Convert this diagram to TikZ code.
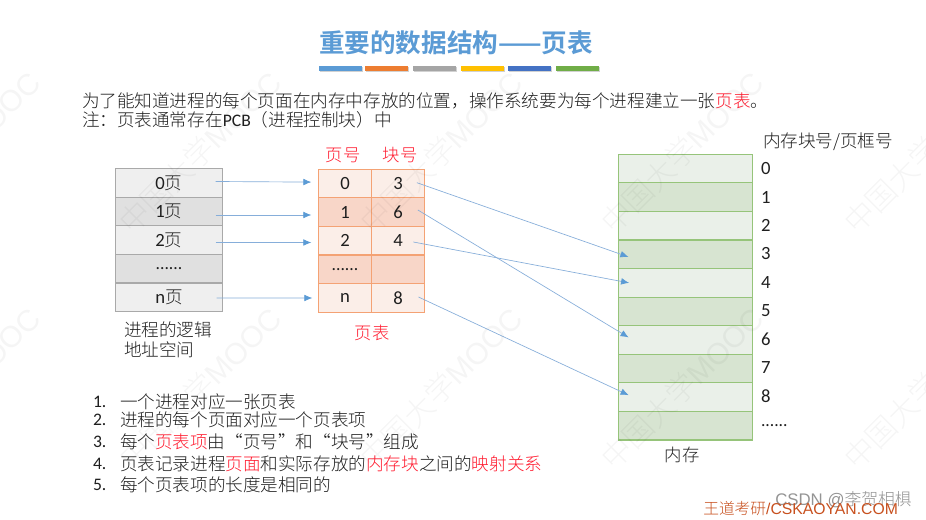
\documentclass[tikz,border=0pt]{standalone}
\usepackage{fontspec}
\setmainfont{Carlito}
\newfontfamily\cj[UprightFont={* Light}]{Noto Sans CJK SC}
\newfontfamily\ari{Liberation Sans}
\definecolor{ink}{HTML}{1F1F1F}
\definecolor{hot}{HTML}{FF1A2E}
\definecolor{arrowc}{HTML}{86AEDA}
\definecolor{tipc}{HTML}{5B9BD5}
\definecolor{grayline}{HTML}{A9A9A9}
\definecolor{grayA}{HTML}{EFEFEF}
\definecolor{grayB}{HTML}{E0E0E0}
\definecolor{orline}{HTML}{F4A274}
\definecolor{orA}{HTML}{FBEEE8}
\definecolor{orB}{HTML}{F8D6C8}
\definecolor{grline}{HTML}{96C47A}
\definecolor{grA}{HTML}{EAF0E9}
\definecolor{grB}{HTML}{D7E4D1}
\definecolor{titleblue}{HTML}{5B9BD5}
\definecolor{footc}{HTML}{C8501E}
\newcommand{\hl}[1]{\textcolor{hot}{#1}}
\newcommand{\dg}[1]{{\fontsize{14pt}{15pt}\selectfont #1}}
\usetikzlibrary{arrows.meta}
\tikzset{
  cellbox/.style={rectangle,inner sep=0pt,outer sep=0pt,minimum height=21.45pt,line width=0.9pt},
  txt/.style={inner sep=0pt,outer sep=0pt,font=\fontsize{13.2pt}{15pt}\selectfont,text=ink},
  lft/.style={txt,anchor=west},
  link/.style={draw=arrowc,line width=0.5pt,-{Latex[length=6pt,width=5pt,color=tipc]}},
  wm/.style={rotate=45,inner sep=0pt,font=\fontsize{22.5pt}{24pt}\selectfont\ari,text=black,text opacity=0.04}
}
\begin{document}
\begin{tikzpicture}[x=0.75pt,y=-0.75pt]
\useasboundingbox (0,0) rectangle (926,520);
\fill[white] (0,0) rectangle (926,520);
% title
\node[txt,text=titleblue,font=\fontsize{19.2pt}{20pt}\selectfont\cj\bfseries] (title) at (456,43) {重要的数据结构——页表};
\foreach \xa/\xb/\c in {319/362/5B9BD5,365/408/ED7D31,413/456/A5A5A5,461/504/FFC000,508/551/4472C4,556/599/70AD47}{
  \fill[black!18] (\xa+0.5,67.5) rectangle (\xb+0.5,72.5);
  \definecolor{tmpc}{HTML}{\c}
  \fill[tmpc] (\xa,66) rectangle (\xb,71);
}
% intro
\node[lft] (intro1) at (82,101) {\cj 为了能知道进程的每个页面在内存中存放的位置，操作系统要为每个进程建立一张\hl{页表}。};
\node[lft] (intro2) at (82,120) {\cj 注：页表通常存在{\rmfamily PCB}（进程控制块）中};
% logical space
\foreach \i/\y/\f in {0/183/grayA,1/211.6/grayB,2/240.2/grayA,3/268.8/grayB,4/297.4/grayA}{
  \node[cellbox,draw=grayline,fill=\f,minimum width=80.4pt] (L\i) at (169,\y) {};
}
\node[txt] at (L0) {\dg{0}{\cj 页}};
\node[txt] at (L1) {\dg{1}{\cj 页}};
\node[txt] at (L2) {\dg{2}{\cj 页}};
\node[txt] at (L3) {......};
\node[txt] at (L4) {\dg{n}{\cj 页}};
\node[lft] (lsa) at (124,330) {\cj 进程的逻辑};
\node[lft] (lsb) at (124,350) {\cj 地址空间};
% page table
\foreach \i/\y/\f in {0/183.6/orA,1/212.2/orB,2/240.8/orA,3/269.4/orB,4/298/orA}{
  \node[cellbox,draw=orline,fill=\f,minimum width=40pt] (P\i) at (345,\y) {};
  \node[cellbox,draw=orline,fill=\f,minimum width=40pt] (B\i) at (398.2,\y) {};
}
\node[txt] at (P0) {\dg{0}};\node[txt] at (B0) {\dg{3}};
\node[txt] at (P1) {\dg{1}};\node[txt] at (B1) {\dg{6}};
\node[txt] at (P2) {\dg{2}};\node[txt] at (B2) {\dg{4}};
\node[txt] at (P3) {......};
\node[txt] at (P4) {\dg{n}};\node[txt] at (B4) {\dg{8}};
\node[txt,text=hot,font=\fontsize{13pt}{15pt}\selectfont\cj] (hp) at (343,155) {页号};
\node[txt,text=hot,font=\fontsize{13pt}{15pt}\selectfont\cj] (hb) at (400,155) {块号};
\node[txt,text=hot,font=\fontsize{13pt}{15pt}\selectfont\cj] (ptl) at (372,333) {页表};
% memory
\foreach \i/\f in {0/grA,1/grB,2/grA,3/grB,4/grA,5/grB,6/grA,7/grB,8/grA,9/grB}{
  \pgfmathsetmacro{\yy}{168.6+\i*28.57}
  \node[cellbox,draw=grline,fill=\f,minimum width=100.8pt] (M\i) at (685.6,\yy) {};
}
\foreach \i in {0,...,8}{
  \pgfmathsetmacro{\yy}{168.6+\i*28.45}
  \node[lft] (N\i) at (761,\yy) {\dg{\i}};
}
\node[lft] (N9) at (761,426) {......};
\node[lft] (mh) at (763,142) {\cj 内存块号/页框号};
\node[txt,font=\fontsize{13pt}{15pt}\selectfont\cj] (ml) at (682,455) {内存};
% connectors
\draw[link] ([shift={(-7,-1.5)}]L0.east) -- ([shift={(-7,-1.5)}]P0.west);
\draw[link] ([shift={(-7,3.4)}]L1.east) -- ([shift={(-7,2.8)}]P1.west);
\draw[link] ([shift={(-7,2.3)}]L2.east) -- ([shift={(-7,1.7)}]P2.west);
\draw[link] ([shift={(-6,0.6)}]L4.east) -- ([shift={(-6,0)}]P4.west);
\draw[link] ([shift={(-8,-0.9)}]B0.east) -- ([shift={(10,2.6)}]M3.west);
\draw[link] ([shift={(-7,-2.2)}]B1.east) -- ([shift={(10.2,-2.6)}]M6.west);
\draw[link] ([shift={(-11.5,1.2)}]B2.east) -- ([shift={(10.7,0)}]M4.west);
\draw[link] ([shift={(-6.4,-1)}]B4.east) -- ([shift={(10.2,-2)}]M8.west);
% list
\foreach \n/\y in {1/402,2/420,3/442,4/464,5/485}{
  \node[lft] (n\n) at (93,\y) {\n.};
}
\node[lft] (l1) at (120,402) {\cj 一个进程对应一张页表};
\node[lft] (l2) at (120,420) {\cj 进程的每个页面对应一个页表项};
\node[lft] (l3) at (120,442) {\cj 每个\hl{页表项}由“页号”和“块号”组成};
\node[lft] (l4) at (120,464) {\cj 页表记录进程\hl{页面}和实际存放的\hl{内存块}之间的\hl{映射关系}};
\node[lft] (l5) at (120,485) {\cj 每个页表项的长度是相同的};
% watermarks
\foreach \y in {152,388}{\foreach \x in {-41,200,441,682,925}{
  \node[wm] at (\x,\y) {{\cj 中国大学}MOOC};
}}
% footer
\node[anchor=west,inner sep=0pt,text=black!42,font=\fontsize{12.6pt}{14pt}\selectfont\ari] (csdn) at (775,500) {CSDN @{\cj 李贺相椇}};
\node[anchor=west,inner sep=0pt,text=footc,font=\fontsize{11.8pt}{13pt}\selectfont\ari] (foot) at (703,509) {{\cj 王道考研}/CSKAOYAN.COM};
\end{tikzpicture}
\end{document}
